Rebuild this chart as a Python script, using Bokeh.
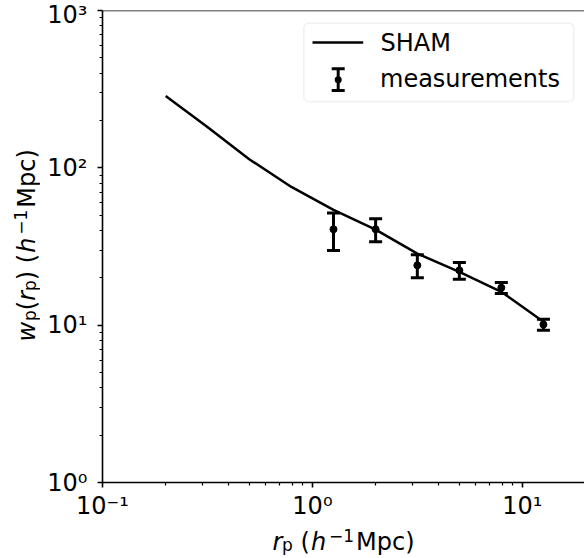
import numpy as np
from bokeh.plotting import figure
from bokeh.layouts import row, column
from bokeh.models import (Range1d, FixedTicker, Whisker, TeeHead, ColumnDataSource,
                          Label, BoxAnnotation, Span)
from bokeh.embed import file_html
from bokeh.resources import INLINE

# ---- data ----
sham_r = [0.2, 0.316, 0.5, 0.794, 1.26, 2.0, 3.16, 5.01, 7.94, 12.6]
sham_wp = [286, 182, 113.5, 75.6, 54.0, 40.5, 28.5, 21.8, 16.3, 10.5]

meas_r = [1.26, 2.0, 3.16, 5.01, 7.94, 12.6]
meas_wp = [40.7, 40.7, 24.0, 22.3, 17.3, 10.1]
meas_err = [10.9, 6.8, 4.0, 2.7, 1.4, 0.8]

x_tick_vals = [0.1, 1.0, 10.0]
x_tick_labels = ["10\u207b\u00b9", "10\u2070", "10\u00b9"]
y_tick_vals = [1.0, 10.0, 100.0, 1000.0]
y_tick_labels = ["10\u2070", "10\u00b9", "10\u00b2", "10\u00b3"]

legend_labels = ["SHAM", "measurements"]

FONT = "DejaVu Sans"
FS = "24px"
SUB_FS = "17px"

x_minor = [m * 10.0 ** k for k in (-1, 0, 1) for m in range(2, 10)]
y_minor = [m * 10.0 ** k for k in (0, 1, 2) for m in range(2, 10)]

# ---------------- main plot ----------------
p = figure(width=544, height=522, x_axis_type="log", y_axis_type="log",
           x_range=Range1d(0.1, 19.77), y_range=Range1d(1, 1000),
           output_backend="svg", toolbar_location=None,
           min_border_left=62, min_border_right=0, min_border_top=10,
           min_border_bottom=40)
p.outline_line_color = None
p.background_fill_color = "white"
p.border_fill_color = "white"
p.xgrid.visible = False
p.ygrid.visible = False

p.xaxis.ticker = FixedTicker(ticks=x_tick_vals, minor_ticks=x_minor)
p.yaxis.ticker = FixedTicker(ticks=y_tick_vals, minor_ticks=y_minor)
p.xaxis.major_label_overrides = dict(zip(x_tick_vals, x_tick_labels))
p.yaxis.major_label_overrides = dict(zip(y_tick_vals, y_tick_labels))

for ax in (p.xaxis, p.yaxis):
    ax.axis_line_color = "black"
    ax.axis_line_width = 1.6
    ax.major_tick_line_color = "black"
    ax.major_tick_line_width = 1.6
    ax.minor_tick_line_color = "black"
    ax.minor_tick_line_width = 1.2
    ax.major_tick_out = 5
    ax.major_tick_in = 0
    ax.minor_tick_out = 3
    ax.minor_tick_in = 0
    ax.major_label_text_font = FONT
    ax.major_label_text_font_size = FS
    ax.major_label_text_color = "black"
p.xaxis.major_label_standoff = 4
p.yaxis.major_label_standoff = 10

# top spine
p.add_layout(Span(location=1000, dimension="width", line_color="black", line_width=1.6))

# SHAM line
p.line(sham_r, sham_wp, line_color="black", line_width=2.5)

# measurements with error bars
src = ColumnDataSource(dict(
    r=meas_r, wp=meas_wp,
    lower=[w - e for w, e in zip(meas_wp, meas_err)],
    upper=[w + e for w, e in zip(meas_wp, meas_err)],
))
p.add_layout(Whisker(source=src, base="r", lower="lower", upper="upper",
                     dimension="height", line_color="black", line_width=3,
                     upper_head=TeeHead(size=13, line_width=3, line_color="black"),
                     lower_head=TeeHead(size=13, line_width=3, line_color="black")))
p.scatter("r", "wp", source=src, size=7, color="black")


def lab(fig, text, x, y, units="screen", size=FS, style="normal", angle=0.0,
        level="annotation"):
    fig.add_layout(Label(text=text, x=x, y=y, x_units=units, y_units=units,
                         text_font=FONT, text_font_size=size, text_font_style=style,
                         text_color="black", text_baseline="alphabetic",
                         text_align="left", angle=angle, level=level))


# legend (manual, frame-relative screen units)
def box(l, r, t, b, fill="black", line=None, lw=0, radius=0, alpha=1.0):
    p.add_layout(BoxAnnotation(left=l, right=r, top=t, bottom=b,
                               left_units="screen", right_units="screen",
                               top_units="screen", bottom_units="screen",
                               fill_color=fill, fill_alpha=alpha,
                               line_color=line, line_width=lw,
                               border_radius=radius, level="overlay"))

box(201.3, 471.3, 459.3, 381, fill="white", line="#cccccc", lw=1.5, radius=5, alpha=0.85)
box(210, 260.7, 441.2, 438.7)                      # line sample
box(234.2, 237.2, 413.7, 392)                      # error bar stem
box(229.2, 242.2, 415.2, 412.2)                    # top cap
box(229.2, 242.2, 393.5, 390.5)                    # bottom cap
box(232.2, 239.2, 406.2, 399.2, radius=4)          # dot
lab(p, legend_labels[0], 278, 439.3, level="overlay")
lab(p, legend_labels[1], 277.5, 404, level="overlay")


def blank(w, h, xr, yr):
    f = figure(width=w, height=h, x_range=xr, y_range=yr,
               output_backend="svg", toolbar_location=None,
               x_axis_location=None, y_axis_location=None,
               min_border=0, min_border_left=0, min_border_right=0,
               min_border_top=0, min_border_bottom=0)
    f.outline_line_color = None
    f.background_fill_color = "white"
    f.border_fill_color = "white"
    f.xgrid.visible = False
    f.ygrid.visible = False
    return f


# ---------------- y axis title: w_p(r_p) (h^-1 Mpc) ----------------
# frame of this panel lines up with the main frame; data y = page y
ylab = blank(40, 522, Range1d(0, 40), Range1d(482, 10))
A = np.pi / 2
lab(ylab, "w", 26, 341, units="data", style="italic", angle=A)
lab(ylab, "p", 29.5, 320.4, units="data", size=SUB_FS, angle=A)
lab(ylab, "(", 26, 309.7, units="data", angle=A)
lab(ylab, "r", 26, 300.3, units="data", style="italic", angle=A)
lab(ylab, "p", 29.5, 290.4, units="data", size=SUB_FS, angle=A)
lab(ylab, ")", 26, 279.7, units="data", angle=A)
lab(ylab, "(", 26, 262.7, units="data", angle=A)
lab(ylab, "h", 26, 252.3, units="data", style="italic", angle=A)
lab(ylab, "\u22121", 19.5, 234.3, units="data", size=SUB_FS, angle=A)
lab(ylab, "Mpc)", 26, 207.2, units="data", angle=A)

# ---------------- x axis title: r_p (h^-1 Mpc) ----------------
xlab = blank(584, 36, Range1d(0, 584), Range1d(0, 36))
lab(xlab, "r", 272, 17, units="data", style="italic")
lab(xlab, "p", 281.5, 13.5, units="data", size=SUB_FS)
lab(xlab, "(", 300, 17, units="data")
lab(xlab, "h", 310.5, 17, units="data", style="italic")
lab(xlab, "\u22121", 328.5, 23.5, units="data", size=SUB_FS)
lab(xlab, "Mpc)", 355.6, 17, units="data")

layout = column(row(ylab, p, spacing=0), xlab, spacing=0)

open("out.html", "w").write(file_html(layout, INLINE))
